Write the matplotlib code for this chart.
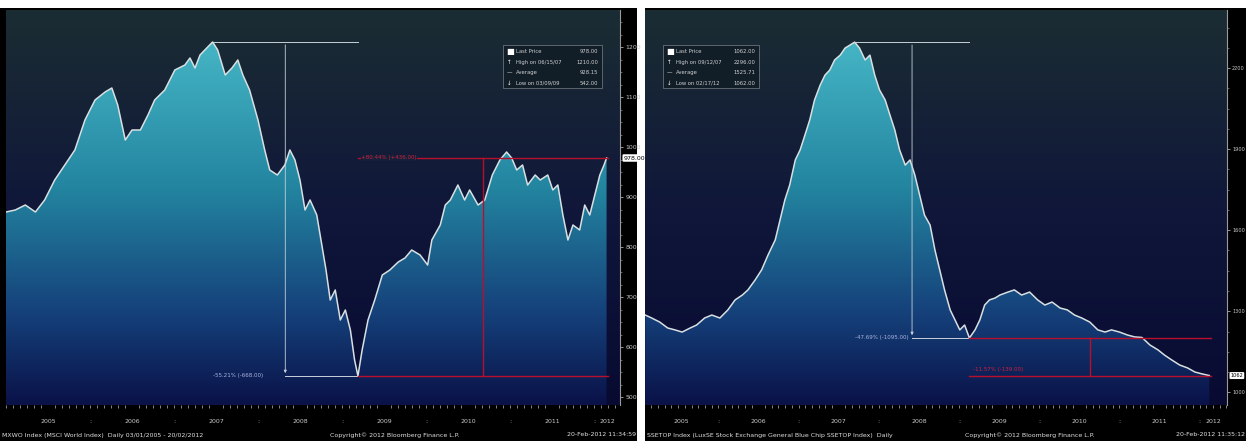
import numpy as np
import matplotlib
matplotlib.use('Agg')
import matplotlib.pyplot as plt
from matplotlib.colors import LinearSegmentedColormap
from matplotlib.patches import Rectangle, PathPatch
import matplotlib.transforms as mtransforms

# left panel (MSCI World), decimal year / index level
world_t = [2005.00, 2005.11, 2005.23, 2005.35, 2005.46, 2005.58, 2005.70, 2005.82, 2005.94,
           2006.06, 2006.18, 2006.26, 2006.33, 2006.42, 2006.50, 2006.60, 2006.69, 2006.77, 2006.89,
           2007.01, 2007.13, 2007.19, 2007.25, 2007.31, 2007.39, 2007.46, 2007.52, 2007.61, 2007.69,
           2007.76, 2007.82, 2007.90, 2008.00, 2008.08, 2008.14, 2008.23, 2008.32, 2008.38, 2008.44,
           2008.50, 2008.56, 2008.62, 2008.70, 2008.76, 2008.81, 2008.86, 2008.92, 2008.98, 2009.04,
           2009.10, 2009.15, 2009.19, 2009.24, 2009.31, 2009.39, 2009.48, 2009.57, 2009.67, 2009.75,
           2009.83, 2009.93, 2010.02, 2010.07, 2010.17, 2010.23, 2010.29, 2010.38, 2010.46, 2010.52,
           2010.62, 2010.70, 2010.79, 2010.88, 2010.96, 2011.02, 2011.08, 2011.15, 2011.21, 2011.30,
           2011.36, 2011.45, 2011.51, 2011.57, 2011.63, 2011.69, 2011.75, 2011.83, 2011.89, 2011.95,
           2012.01, 2012.07, 2012.12, 2012.15]
world_v = [870, 874, 884, 870, 894, 934, 964, 994, 1054,
           1094, 1110, 1118, 1084, 1014, 1034, 1034, 1064, 1094, 1114,
           1154, 1164, 1178, 1158, 1184, 1198, 1210, 1194, 1144, 1158,
           1174, 1144, 1114, 1054, 994, 954, 944, 964, 994, 974,
           934, 874, 894, 864, 804, 754, 694, 714, 654, 674,
           634, 574, 542, 594, 654, 694, 744, 754, 770, 778,
           794, 784, 764, 814, 844, 884, 894, 924, 894, 914,
           884, 894, 944, 974, 990, 978, 954, 964, 924, 944,
           934, 944, 914, 924, 864, 814, 844, 834, 884, 864,
           904, 944, 964, 978]

# right panel, decimal year / index level
other_t = [2005.09, 2005.17, 2005.27, 2005.37, 2005.46, 2005.55, 2005.65, 2005.73, 2005.83, 2005.92,
           2006.02, 2006.12, 2006.21, 2006.30, 2006.37, 2006.46, 2006.54, 2006.62, 2006.71, 2006.77,
           2006.83, 2006.89, 2006.96, 2007.02, 2007.08, 2007.14, 2007.20, 2007.27, 2007.33, 2007.39,
           2007.45, 2007.52, 2007.58, 2007.64, 2007.70, 2007.76, 2007.83, 2007.89, 2007.95, 2008.01,
           2008.08, 2008.14, 2008.20, 2008.26, 2008.33, 2008.39, 2008.45, 2008.51, 2008.57, 2008.64,
           2008.70, 2008.76, 2008.82, 2008.89, 2008.95, 2009.01, 2009.07, 2009.13, 2009.20, 2009.26,
           2009.32, 2009.38, 2009.45, 2009.51, 2009.61, 2009.69, 2009.78, 2009.88, 2009.98, 2010.07,
           2010.16, 2010.26, 2010.35, 2010.44, 2010.53, 2010.63, 2010.73, 2010.82, 2010.90, 2011.00,
           2011.10, 2011.19, 2011.28, 2011.38, 2011.48, 2011.56, 2011.65, 2011.75, 2011.85, 2011.94,
           2012.03, 2012.12]
other_v = [1286, 1275, 1260, 1238, 1231, 1223, 1238, 1249, 1275, 1286,
           1275, 1305, 1342, 1360, 1379, 1416, 1453, 1508, 1564, 1638,
           1712, 1767, 1860, 1897, 1952, 2008, 2082, 2137, 2174, 2193,
           2230, 2248, 2274, 2285, 2296, 2274, 2230, 2248, 2174, 2119,
           2082, 2026, 1971, 1897, 1841, 1860, 1804, 1730, 1656, 1619,
           1527, 1453, 1379, 1305, 1268, 1231, 1249, 1201, 1231, 1268,
           1323, 1342, 1349, 1360, 1371, 1379, 1360, 1371, 1342, 1323,
           1334, 1312, 1305, 1286, 1275, 1260, 1231, 1223, 1231, 1223,
           1212, 1205, 1203, 1175, 1157, 1138, 1120, 1101, 1090, 1075,
           1068, 1062]

world_ticks = [1200, 1100, 1000, 900, 800, 700, 600, 500]
other_ticks = [2200, 1900, 1600, 1300, 1000]
years = [2005, 2006, 2007, 2008, 2009, 2010, 2011, 2012]

W, H = 1246, 441
fig = plt.figure(figsize=(W / 100, H / 100), dpi=100, facecolor='white')

bg_cmap = LinearSegmentedColormap.from_list('bg', ['#080a32', '#10173a', '#1b2d33'])
area_cmap = LinearSegmentedColormap.from_list('area', [(0, '#0a1248'), (0.25, '#15407a'),
                                                      (0.6, '#2385a0'), (1, '#45b5c5')])
txt_col = '#c8c8c8'
red = '#b8102c'
fs = 4.5

# black panels
fig.patches.append(Rectangle((0, 0), 637 / W, 433 / H, transform=fig.transFigure,
                             facecolor='black', zorder=-10))
fig.patches.append(Rectangle((645 / W, 0), 601 / W, 433 / H, transform=fig.transFigure,
                             facecolor='black', zorder=-10))


def panel(px0, px1, t, v, xlim, ylim, yticks, legend_x, legend_rows, trough_before,
          yfs, last_fmt):
    ax = fig.add_axes([px0 / W, 36 / H, (px1 - px0) / W, 395 / H])
    ax.set_facecolor('#080a32')
    t = np.asarray(t)
    v = np.asarray(v, dtype=float)
    grad = np.linspace(0, 1, 256).reshape(-1, 1)
    ax.imshow(grad, cmap=bg_cmap, origin='lower', aspect='auto',
              extent=[xlim[0], xlim[1], ylim[0], ylim[1]], zorder=0)
    area = ax.imshow(grad, cmap=area_cmap, origin='lower', aspect='auto',
                     extent=[xlim[0], xlim[1], ylim[0], v.max()], zorder=1)
    fill = ax.fill_between(t, v, ylim[0], facecolor='none', edgecolor='none')
    clip = PathPatch(fill.get_paths()[0], transform=ax.transData,
                     facecolor='none', edgecolor='none')
    ax.add_patch(clip)
    area.set_clip_path(clip)
    ax.plot(t, v, color='#d8e0e2', lw=1.1, zorder=3)

    # y axis on the right
    ax.yaxis.tick_right()
    ax.set_yticks(yticks)
    ax.set_yticklabels([str(y) for y in yticks])
    step = abs(yticks[0] - yticks[1])
    ax.set_yticks(np.arange(min(yticks) - step, max(yticks) + step, step / 4), minor=True)
    ax.tick_params(axis='y', which='major', length=2.5, width=0.6, color='#aaaaaa',
                   labelsize=yfs, labelcolor=txt_col, pad=1.2)
    ax.tick_params(axis='y', which='minor', length=1.5, width=0.5, color='#888888')
    for s in ['left', 'top', 'bottom']:
        ax.spines[s].set_visible(False)
    ax.spines['right'].set_color('#9a9a9a')
    ax.spines['right'].set_linewidth(0.8)

    # x axis: year labels centred on visible part of each year
    centers = [(max(y, xlim[0]) + min(y + 1, xlim[1])) / 2 for y in years]
    ax.set_xticks(centers)
    ax.set_xticklabels([str(y) for y in years])
    ax.set_xticks(np.arange(2005, 2012.5, 1 / 12), minor=True)
    ax.tick_params(axis='x', which='major', length=0, labelsize=fs, labelcolor=txt_col, pad=10)
    ax.tick_params(axis='x', which='minor', length=2, width=0.6, color='#9a9a9a')
    ax.set_xlim(xlim)
    ax.set_ylim(ylim)
    trans = mtransforms.blended_transform_factory(ax.transData, ax.transAxes)
    for y in years[1:]:
        ax.text(y, -0.043, ':', transform=trans, fontsize=fs, color=txt_col,
                ha='center', va='center')

    # last price box
    last = v[-1]
    ax.text(1.006, last, last_fmt % last, transform=mtransforms.blended_transform_factory(
        ax.transAxes, ax.transData), fontsize=yfs, color='black', va='center', ha='left',
        bbox=dict(boxstyle='round,pad=0.2', fc='white', ec='none'), zorder=6, clip_on=False)

    # drawdown from high to trough (white)
    ipk = int(np.argmax(v))
    sel = np.where(t < trough_before)[0]
    itr = sel[np.argmin(v[sel])]
    tp, vp, tt, vt = t[ipk], v[ipk], t[itr], v[itr]
    mid = (tp + tt) / 2
    wc = '#c8d0d8'
    ax.plot([tp, tt], [vp, vp], color=wc, lw=0.7, zorder=4)
    ax.annotate('', xy=(mid, vt), xytext=(mid, vp),
                arrowprops=dict(arrowstyle='-|>', color=wc, lw=0.6, mutation_scale=4), zorder=4)
    pct = (vt - vp) / vp * 100
    lab = '%.2f%% (%.2f)' % (pct, vt - vp)
    ax.text(tp, vt, lab, fontsize=4, color='#aab4e0', ha='left', va='center', zorder=5)
    ax.plot([mid, tt], [vt, vt], color=wc, lw=0.7, zorder=4)

    # move from trough to last (red)
    tend = t[-1] + 0.02
    ax.plot([tt, tend], [vt, vt], color=red, lw=1.0, zorder=4)
    ax.plot([tt, tend], [last, last], color=red, lw=1.0, zorder=4)
    mid2 = (tt + tend) / 2
    ax.plot([mid2, mid2], [vt, last], color=red, lw=1.0, zorder=4)
    pct2 = (last - vt) / vt * 100
    lab2 = '%+.2f%% (%+.2f)' % (pct2, last - vt)
    if last > vt:
        ax.text(tt + 0.04, last, lab2, fontsize=4, color='#d0203a', ha='left', va='center',
                zorder=5, bbox=dict(boxstyle='square,pad=0.1', fc='#141f3a', ec='none'))
    else:
        ax.text(tt + 0.04, last + 0.008 * (ylim[1] - ylim[0]), lab2, fontsize=4,
                color='#d0203a', ha='left', va='bottom', zorder=5)

    # legend box
    lx0, lx1 = legend_x
    ax.add_patch(Rectangle((lx0, 0.803), lx1 - lx0, 0.108, transform=ax.transAxes,
                           facecolor='#111e28', edgecolor='#7a8088', lw=0.5, zorder=6))
    rows_y = [0.894, 0.868, 0.841, 0.815]
    marks = ['\u25a0', '\u2191', '\u2014', '\u2193']
    for (name, val), ry, mk in zip(legend_rows, rows_y, marks):
        ax.text(lx0 + 0.006, ry, mk, transform=ax.transAxes, fontsize=4 if mk != '\u25a0' else 6,
                color='white', va='center', ha='left', zorder=7)
        ax.text(lx0 + 0.022, ry, name, transform=ax.transAxes, fontsize=3.8,
                color='#d0d0d0', va='center', ha='left', zorder=7)
        ax.text(lx1 - 0.006, ry, val, transform=ax.transAxes, fontsize=3.8,
                color='#d0d0d0', va='center', ha='right', zorder=7)
    return ax


wv = np.array(world_v, dtype=float)
ov = np.array(other_v, dtype=float)

panel(6, 620, world_t, world_v, (2005.0, 2012.31), (484, 1274), world_ticks,
      (0.809, 0.971),
      [('Last Price', '%.2f' % wv[-1]), ('High on 06/15/07', '%.2f' % wv.max()),
       ('Average', '%.2f' % wv.mean()), ('Low on 03/09/09', '%.2f' % wv.min())], 2010,
      4.5, '%.2f')

panel(645, 1227, other_t, other_v, (2005.087, 2012.34), (953, 2415), other_ticks,
      (0.031, 0.196),
      [('Last Price', '%.2f' % ov[-1]), ('High on 09/12/07', '%.2f' % ov.max()),
       ('Average', '%.2f' % ov.mean()), ('Low on 02/17/12', '%.2f' % ov.min())], 2010,
      3.6, '%.0f')

# footers
fy = 6 / H
fig.text(2 / W, fy, 'MXWO Index (MSCI World Index)  Daily 03/01/2005 - 20/02/2012',
         fontsize=fs, color='#e0e0e0', va='center', ha='left')
fig.text(395 / W, fy, 'Copyright\u00a9 2012 Bloomberg Finance L.P.', fontsize=fs,
         color='#e0e0e0', va='center', ha='center')
fig.text(636 / W, fy, '20-Feb-2012 11:34:59', fontsize=fs, color='#e0e0e0',
         va='center', ha='right')
fig.text(647 / W, fy, 'SSETOP Index (LuxSE Stock Exchange General Blue Chip SSETOP Index)  Daily',
         fontsize=fs, color='#e0e0e0', va='center', ha='left')
fig.text(1030 / W, fy, 'Copyright\u00a9 2012 Bloomberg Finance L.P.', fontsize=fs,
         color='#e0e0e0', va='center', ha='center')
fig.text(1245 / W, fy, '20-Feb-2012 11:35:12', fontsize=fs, color='#e0e0e0',
         va='center', ha='right')

fig.savefig('out.png', dpi=100, facecolor='white')
